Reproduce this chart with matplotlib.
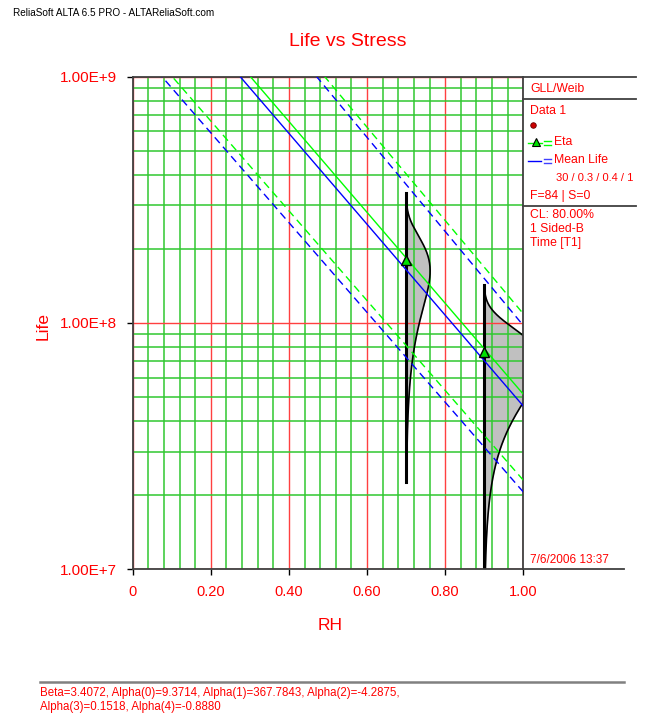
import numpy as np
import matplotlib
matplotlib.use('Agg')
import matplotlib.pyplot as plt
from matplotlib.ticker import FixedLocator, MultipleLocator, LogLocator, NullFormatter, FixedFormatter

plt.rcParams['font.family'] = ['Liberation Sans', 'DejaVu Sans']

# ---------------- data ----------------
stress_ends = [0.0, 1.0]
mean_life = [3.22e9, 4.60e7]
eta_life = [3.60e9, 5.14e7]
mean_lower = [1.37e9, 2.06e7]
eta_lower = [1.53e9, 2.30e7]
mean_upper = [7.93e9, 9.77e7]
eta_upper = [8.53e9, 1.09e8]
eta_stress = [0.70, 0.90]
eta_points = [1.80e8, 7.6e7]
beta = 3.4072
x_ticks = [0.0, 0.2, 0.4, 0.6, 0.8, 1.0]
x_ticklabels = ['0', '0.20', '0.40', '0.60', '0.80', '1.00']
y_ticks = [1e7, 1e8, 1e9]
y_ticklabels = ['1.00E+7', '1.00E+8', '1.00E+9']

RED = '#ff0000'
GRID_G = '#30c830'
GRID_R = '#ff4040'
AXC = '#404040'

W, H = 650, 715
fig = plt.figure(figsize=(W / 100, H / 100), dpi=100)
L, R, T, B = 132.7, 523.3, 76.7, 569.3
ax = fig.add_axes([L / W, 1 - B / H, (R - L) / W, (B - T) / H])
ax.set_yscale('log')
ax.set_xlim(0, 1)
ax.set_ylim(1e7, 1e9)

# grid
ax.xaxis.set_major_locator(FixedLocator(x_ticks))
ax.xaxis.set_major_formatter(FixedFormatter(x_ticklabels))
ax.xaxis.set_minor_locator(MultipleLocator(0.04))
ax.yaxis.set_major_locator(FixedLocator(y_ticks))
ax.yaxis.set_major_formatter(FixedFormatter(y_ticklabels))
ax.yaxis.set_minor_locator(LogLocator(base=10, subs=np.arange(2, 10)))
ax.yaxis.set_minor_formatter(NullFormatter())
ax.set_axisbelow(True)
ax.grid(which='minor', color=GRID_G, lw=1.1)
ax.grid(which='major', color=GRID_R, lw=1.0)
ax.tick_params(which='minor', length=0)
ax.tick_params(which='major', direction='out', length=4.5, width=1.0)
ax.tick_params(axis='x', labelsize=10.5, labelcolor=RED, pad=7)
ax.tick_params(axis='y', labelsize=11, labelcolor=RED, pad=7)
for i, tk in enumerate(ax.xaxis.get_major_ticks()):
    tk.tick1line.set_color(AXC if i in (0, len(x_ticks) - 1) else RED)
for tk in ax.yaxis.get_major_ticks():
    tk.tick1line.set_color(AXC)
for s in ax.spines.values():
    s.set_color(AXC)
    s.set_linewidth(1.3)

# pdf curves
pdf_lo, pdf_hi = 0.126, 1.875
pdf_peak_width = 0.0615
u_mode = ((beta - 1) / beta) ** (1 / beta)
fmax0 = beta / eta_points[0] * u_mode ** (beta - 1) * np.exp(-u_mode ** beta)
pdf_scale = pdf_peak_width / fmax0
for x0, eta in zip(eta_stress, eta_points):
    t = np.geomspace(pdf_lo * eta, pdf_hi * eta, 400)
    u = t / eta
    f = beta / eta * u ** (beta - 1) * np.exp(-u ** beta)
    off = pdf_scale * f
    ax.fill_betweenx(t, x0, x0 + off, color='#c0c0c0', lw=0, zorder=0.3)
    ax.plot(x0 + off, t, color='black', lw=1.2, zorder=2)
    ax.plot([x0, x0], [t[0], t[-1]], color='black', lw=2.2, zorder=2.1)

# life lines
dash = (5.5, 3.5)
ax.plot(stress_ends, mean_lower, color='#0000ff', lw=1.0, dashes=dash, zorder=3)
ax.plot(stress_ends, eta_lower, color='#00ff00', lw=1.0, dashes=dash, zorder=3)
ax.plot(stress_ends, mean_upper, color='#0000ff', lw=1.0, dashes=dash, zorder=3)
ax.plot(stress_ends, eta_upper, color='#00ff00', lw=1.0, dashes=dash, zorder=3)
ax.plot(stress_ends, eta_life, color='#00ff00', lw=1.0, zorder=3)
ax.plot(stress_ends, mean_life, color='#0000ff', lw=1.0, zorder=3)
ax.plot(eta_stress, eta_points, ls='none', marker='^', ms=7, mfc='#00e000',
        mec='black', mew=1.0, zorder=4, clip_on=False)

# ---------------- overlay (pixel coordinates) ----------------
ov = fig.add_axes([0, 0, 1, 1])
ov.set_xlim(0, W)
ov.set_ylim(H, 0)
ov.axis('off')
ov.patch.set_visible(False)

ov.text(13, 13, 'ReliaSoft ALTA 6.5 PRO - ALTAReliaSoft.com', fontsize=7.2,
        color='black', va='center', ha='left')
ov.text(348, 42, 'Life vs Stress', fontsize=14, color=RED, ha='center', va='center')
ov.text(43, 326, 'Life', fontsize=12.5, color=RED, ha='center', va='center', rotation=90)
ov.text(330, 626, 'RH', fontsize=12.5, color=RED, ha='center', va='center')

# panel lines
ov.plot([R, 636], [T, T], color=AXC, lw=1.3)
ov.plot([R, 636], [98.5, 98.5], color=AXC, lw=1.3)
ov.plot([R, 636], [206, 206], color=AXC, lw=1.3)
ov.plot([R, 624], [B, B], color=AXC, lw=1.3)

fs = 8.8
ov.text(530, 89, 'GLL/Weib', fontsize=fs, color=RED, va='center')
ov.text(530, 111, 'Data 1', fontsize=fs, color=RED, va='center')
ov.plot([533], [125], marker='o', ms=4, mfc='#cc0000', mec='#660000', mew=0.6)
ov.plot([528, 542], [142.5, 142.5], color='#00ff00', lw=1)
ov.plot([535.5], [141.5], marker='^', ms=6, mfc='#00e000', mec='black', mew=0.8)
ov.plot([544, 551], [140.5, 140.5], color='#00ff00', lw=1)
ov.plot([544, 551], [144.5, 144.5], color='#00ff00', lw=1)
ov.text(554, 142, 'Eta', fontsize=fs, color=RED, va='center')
ov.plot([528, 541], [160.5, 160.5], color='#0000ff', lw=1)
ov.plot([544, 551], [158.5, 158.5], color='#4040ff', lw=1)
ov.plot([544, 551], [162.5, 162.5], color='#4040ff', lw=1)
ov.text(554, 160, 'Mean Life', fontsize=fs, color=RED, va='center')
ov.text(556, 178, '30 / 0.3 / 0.4 / 1', fontsize=8, color=RED, va='center')
ov.text(530, 196, 'F=84 | S=0', fontsize=fs, color=RED, va='center')
ov.text(530, 215, 'CL: 80.00%', fontsize=fs, color=RED, va='center')
ov.text(530, 229, '1 Sided-B', fontsize=fs, color=RED, va='center')
ov.text(530, 243, 'Time [T1]', fontsize=fs, color=RED, va='center')
ov.text(530, 560, '7/6/2006 13:37', fontsize=8.5, color=RED, va='center')

ov.plot([40, 624], [682, 682], color='#808080', lw=1.8)
ov.text(40, 693, 'Beta=3.4072, Alpha(0)=9.3714, Alpha(1)=367.7843, Alpha(2)=-4.2875,',
        fontsize=8.3, color=RED, va='center')
ov.text(40, 707, 'Alpha(3)=0.1518, Alpha(4)=-0.8880', fontsize=8.3, color=RED, va='center')

fig.savefig('out.png', dpi=100, facecolor='white')
